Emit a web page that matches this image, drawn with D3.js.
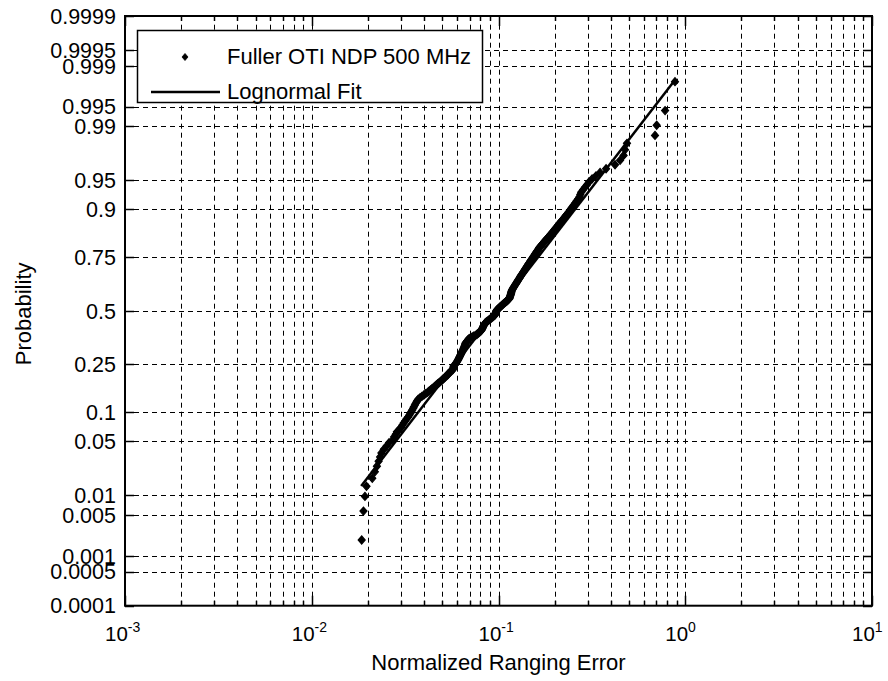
<!DOCTYPE html>
<html>
<head>
<meta charset="utf-8">
<script src="https://cdn.jsdelivr.net/npm/d3@7"></script>
<style>
body { margin: 0; background: #fff; }
text { font-family: "Liberation Sans", Arial, sans-serif; fill: #000; }
</style>
</head>
<body>
<script>
// sorted normalized ranging errors
var errors = [
    0.01851, 0.01892, 0.01927, 0.01964, 0.02109, 0.02177, 0.02233, 0.0228, 0.02322, 0.0236,
    0.02432, 0.02518, 0.02594, 0.02728, 0.02759, 0.02818, 0.02858, 0.02946, 0.03007, 0.03063,
    0.03113, 0.03171, 0.03222, 0.03282, 0.03335, 0.03374, 0.03414, 0.03453, 0.03493, 0.03526,
    0.03566, 0.03599, 0.0364, 0.03674, 0.03717, 0.03803, 0.03892, 0.03983, 0.04075, 0.04171,
    0.04248, 0.04327, 0.04408, 0.0449, 0.04573, 0.04647, 0.04723, 0.0481, 0.04889, 0.04969,
    0.05037, 0.05119, 0.0519, 0.05274, 0.05348, 0.05371, 0.05445, 0.05534, 0.05611, 0.05689,
    0.05712, 0.05735, 0.05746, 0.05768, 0.05848, 0.05888, 0.05929, 0.05984, 0.06026, 0.06067,
    0.06095, 0.06138, 0.06166, 0.06209, 0.06237, 0.06266, 0.0631, 0.06339, 0.06383, 0.06412,
    0.06442, 0.06471, 0.06501, 0.06531, 0.06561, 0.06592, 0.06607, 0.06637, 0.06653, 0.06683,
    0.06745, 0.06792, 0.06855, 0.06902, 0.06966, 0.07096, 0.07228, 0.07362, 0.07516, 0.07656,
    0.07745, 0.07834, 0.07925, 0.07998, 0.08091, 0.08128, 0.08166, 0.08204, 0.08241, 0.0828,
    0.08318, 0.08375, 0.08414, 0.08472, 0.08511, 0.0861, 0.0871, 0.08831, 0.08933, 0.09036,
    0.09141, 0.09247, 0.09354, 0.09462, 0.09572, 0.09594, 0.09638, 0.09661, 0.09705, 0.09727,
    0.0975, 0.0984, 0.09931, 0.1005, 0.1014, 0.1023, 0.1035, 0.1045, 0.1057, 0.1067,
    0.1079, 0.1091, 0.1104, 0.1114, 0.1127, 0.114, 0.1146, 0.1148, 0.1153, 0.1156,
    0.1161, 0.1164, 0.1167, 0.1169, 0.1172, 0.1175, 0.118, 0.1186, 0.1194, 0.1199,
    0.1205, 0.1213, 0.1222, 0.123, 0.1236, 0.1245, 0.1253, 0.1262, 0.1268, 0.1276,
    0.1285, 0.1294, 0.1303, 0.1309, 0.1318, 0.1327, 0.1337, 0.1346, 0.1355, 0.1365,
    0.1374, 0.1384, 0.1393, 0.1403, 0.1413, 0.1422, 0.1432, 0.1442, 0.1455, 0.1466,
    0.1476, 0.1486, 0.15, 0.151, 0.1524, 0.1535, 0.1545, 0.156, 0.157, 0.1585,
    0.1596, 0.1611, 0.1626, 0.1637, 0.1652, 0.1667, 0.1687, 0.1706, 0.1726, 0.1746,
    0.1766, 0.1786, 0.1811, 0.1832, 0.1858, 0.1879, 0.1901, 0.1928, 0.195, 0.1977,
    0.2, 0.2028, 0.2056, 0.208, 0.2109, 0.2138, 0.2173, 0.2203, 0.2239, 0.227,
    0.2307, 0.2344, 0.2382, 0.2415, 0.2455, 0.2495, 0.2535, 0.2582, 0.2624, 0.2673,
    0.2716, 0.2742, 0.2773, 0.2838, 0.2904, 0.2979, 0.3055, 0.317, 0.3327, 0.3499,
    0.3767, 0.4207, 0.4477, 0.4677, 0.4758, 0.4875, 0.6887, 0.7031, 0.7798, 0.881
];

// lognormal fit line end points
var fitErrors = [0.0184, 0.881];
var fitProbs = [0.0136, 0.9982];

var probTicks = [0.0001, 0.0005, 0.001, 0.005, 0.01, 0.05, 0.1, 0.25, 0.5, 0.75, 0.9, 0.95, 0.99, 0.995, 0.999, 0.9995, 0.9999];
var probTickLabels = ["0.0001", "0.0005", "0.001", "0.005", "0.01", "0.05", "0.1", "0.25", "0.5", "0.75", "0.9", "0.95", "0.99", "0.995", "0.999", "0.9995", "0.9999"];
var decadeTicks = [1e-3, 1e-2, 1e-1, 1e0, 1e1];
var decadeExponents = ["-3", "-2", "-1", "0", "1"];
var legendLabels = ["Fuller OTI NDP 500 MHz", "Lognormal Fit"];

//inverse of the standard normal cdf (Acklam)
function probit(p){
    var a = [-39.69683028665376, 220.9460984245205, -275.9285104469687, 138.3577518672690, -30.66479806614716, 2.506628277459239];
    var b = [-54.47609879822406, 161.5858368580409, -155.6989798598866, 66.80131188771972, -13.28068155288572];
    var c = [-0.007784894002430293, -0.3223964580411365, -2.400758277161838, -2.549732539343734, 4.374664141464968, 2.938163982698783];
    var d = [0.007784695709041462, 0.3224671290700398, 2.445134137142996, 3.754408661907416];
    var q, r;
    if (p < 0.02425){
        q = Math.sqrt(-2 * Math.log(p));
        return (((((c[0]*q+c[1])*q+c[2])*q+c[3])*q+c[4])*q+c[5]) / ((((d[0]*q+d[1])*q+d[2])*q+d[3])*q+1);
    }
    if (p > 1 - 0.02425){
        q = Math.sqrt(-2 * Math.log(1 - p));
        return -(((((c[0]*q+c[1])*q+c[2])*q+c[3])*q+c[4])*q+c[5]) / ((((d[0]*q+d[1])*q+d[2])*q+d[3])*q+1);
    }
    q = p - 0.5; r = q * q;
    return (((((a[0]*r+a[1])*r+a[2])*r+a[3])*r+a[4])*r+a[5])*q / (((((b[0]*r+b[1])*r+b[2])*r+b[3])*r+b[4])*r+1);
}

var margin = {left: 125, top: 16, right: 16, bottom: 75};
var width = 888 - margin.left - margin.right;
var height = 681 - margin.top - margin.bottom - 0.3;

var svg = d3.select("body").append("svg")
    .attr("width", 888)
    .attr("height", 681);

var g = svg.append("g")
    .attr("transform", "translate(" + margin.left + "," + margin.top + ")");

var x = d3.scaleLog()
    .domain([1e-3, 1e1])
    .range([0, width]);

var z = d3.scaleLinear()
    .domain([probit(0.0001), probit(0.9999)])
    .range([height, 0]);
var y = function(p){ return z(probit(p)); };

//grid lines
var xGrid = x.ticks().filter(function(d){ return d > 1e-3 && d < 1e1; });
g.selectAll(".vgrid")
    .data(xGrid)
    .enter()
    .append("line")
    .attr("class", "vgrid")
    .attr("x1", function(d){ return Math.round(x(d)) + 0.5; })
    .attr("x2", function(d){ return Math.round(x(d)) + 0.5; })
    .attr("y1", height)
    .attr("y2", 0)
    .style("stroke", "#000")
    .style("stroke-width", 1)
    .style("stroke-dasharray", "5,4");

g.selectAll(".hgrid")
    .data(probTicks.slice(1, -1))
    .enter()
    .append("line")
    .attr("class", "hgrid")
    .attr("x1", 0)
    .attr("x2", width)
    .attr("y1", function(d){ return Math.round(y(d)) + 0.5; })
    .attr("y2", function(d){ return Math.round(y(d)) + 0.5; })
    .style("stroke", "#000")
    .style("stroke-width", 1)
    .style("stroke-dasharray", "5,4");

//tick marks on all four sides
var xTicks = x.ticks();
[[height, -1], [0, 1]].forEach(function(side){
    g.selectAll(null)
        .data(xTicks)
        .enter()
        .append("line")
        .attr("x1", function(d){ return Math.round(x(d)) + 0.5; })
        .attr("x2", function(d){ return Math.round(x(d)) + 0.5; })
        .attr("y1", side[0])
        .attr("y2", function(d){
            var major = decadeTicks.indexOf(d) >= 0;
            return side[0] + side[1] * (major ? 10 : 5);
        })
        .style("stroke", "#000")
        .style("stroke-width", 1.5);
});
[[0, 1], [width, -1]].forEach(function(side){
    g.selectAll(null)
        .data(probTicks)
        .enter()
        .append("line")
        .attr("x1", side[0])
        .attr("x2", side[0] + side[1] * 9)
        .attr("y1", function(d){ return Math.round(y(d)) + 0.5; })
        .attr("y2", function(d){ return Math.round(y(d)) + 0.5; })
        .style("stroke", "#000")
        .style("stroke-width", 1.5);
});

//frame
g.append("rect")
    .attr("x", 0)
    .attr("y", 0)
    .attr("width", width)
    .attr("height", height)
    .style("fill", "none")
    .style("stroke", "#000")
    .style("stroke-width", 2);

//y tick labels
g.selectAll(".ylabel")
    .data(probTicks)
    .enter()
    .append("text")
    .attr("class", "ylabel")
    .attr("x", -9)
    .attr("y", function(d){ return y(d); })
    .attr("dy", "0.36em")
    .attr("text-anchor", "end")
    .style("font-size", "21.5px")
    .text(function(d, i){ return probTickLabels[i]; });

//x tick labels 10^k
var xl = g.selectAll(".xlabel")
    .data(decadeTicks)
    .enter()
    .append("text")
    .attr("class", "xlabel")
    .attr("x", function(d){ return x(d) - 20; })
    .attr("y", height + 35)
    .style("font-size", "20.5px");
xl.append("tspan").text("10");
xl.append("tspan")
    .attr("dy", -9)
    .style("font-size", "14px")
    .text(function(d, i){ return decadeExponents[i]; });

//axis titles
g.append("text")
    .attr("x", width / 2)
    .attr("y", height + 64)
    .attr("text-anchor", "middle")
    .style("font-size", "22px")
    .text("Normalized Ranging Error");

svg.append("text")
    .attr("transform", "translate(31," + (margin.top + y(0.5) + 3) + ") rotate(-90)")
    .attr("text-anchor", "middle")
    .style("font-size", "22px")
    .text("Probability");

//fit line
var line = d3.line()
    .x(function(d){ return x(d[0]); })
    .y(function(d){ return y(d[1]); });
g.append("path")
    .datum(fitErrors.map(function(e, i){ return [e, fitProbs[i]]; }))
    .attr("d", line)
    .style("fill", "none")
    .style("stroke", "#000")
    .style("stroke-width", 2.5);

//data markers at plotting positions (i - 0.5) / n
var diamond = "M0,-4L3.5,0L0,4L-3.5,0Z";
var n = errors.length;
g.selectAll(".pt")
    .data(errors)
    .enter()
    .append("path")
    .attr("class", "pt")
    .attr("d", diamond)
    .attr("transform", function(d, i){
        return "translate(" + x(d) + "," + y((i + 0.5) / n) + ")";
    })
    .style("fill", "#000")
    .style("stroke", "#000")
    .style("stroke-width", 1.2);

//legend
var legend = svg.append("g").attr("class", "legend");
legend.append("rect")
    .attr("x", 137.5)
    .attr("y", 30.5)
    .attr("width", 345)
    .attr("height", 72)
    .style("fill", "#fff")
    .style("stroke", "#000")
    .style("stroke-width", 1.5);
legend.append("path")
    .attr("d", "M0,-3.5L3,0L0,3.5L-3,0Z")
    .attr("transform", "translate(185,57)")
    .style("fill", "#000")
    .style("stroke", "#000")
    .style("stroke-width", 0.8);
legend.append("line")
    .attr("x1", 151)
    .attr("x2", 220)
    .attr("y1", 92)
    .attr("y2", 92)
    .style("stroke", "#000")
    .style("stroke-width", 2.5);
legend.selectAll(".legtext")
    .data(legendLabels)
    .enter()
    .append("text")
    .attr("class", "legtext")
    .attr("x", 227)
    .attr("y", function(d, i){ return 64 + i * 35; })
    .style("font-size", "22px")
    .text(function(d){ return d; });
</script>
</body>
</html>
